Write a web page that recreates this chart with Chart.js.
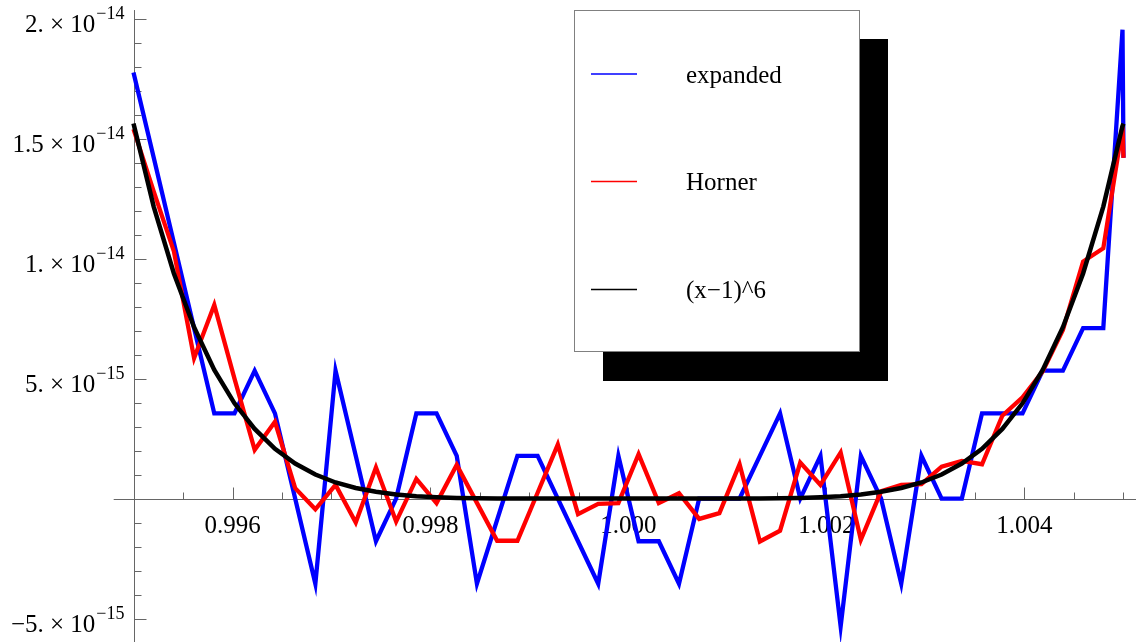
<!DOCTYPE html>
<html><head><meta charset="utf-8">
<script src="https://cdn.jsdelivr.net/npm/chart.js@4.4.1/dist/chart.umd.min.js"></script>
<style>html,body{margin:0;padding:0;background:#fff}#wrap{width:1136px;height:642px;position:relative}</style>
</head><body><div id="wrap"><canvas id="c" width="1136" height="642"></canvas></div>
<script>
// ---- data ----
const xSamples = [0.995000,0.995204,0.995408,0.995612,0.995816,0.996020,0.996224,0.996429,0.996633,0.996837,
  0.997041,0.997245,0.997449,0.997653,0.997857,0.998061,0.998265,0.998469,0.998673,0.998878,
  0.999082,0.999286,0.999490,0.999694,0.999898,1.000102,1.000306,1.000510,1.000714,1.000918,
  1.001122,1.001327,1.001531,1.001735,1.001939,1.002143,1.002347,1.002551,1.002755,1.002959,
  1.003163,1.003367,1.003571,1.003776,1.003980,1.004184,1.004388,1.004592,1.004796,1.004990,1.005000];
const expandedValues = [17.76e-15,14.21e-15,10.66e-15,7.10e-15,3.55e-15,3.55e-15,5.33e-15,3.55e-15,0,-3.55e-15,
  5.33e-15,1.78e-15,-1.78e-15,0,3.55e-15,3.55e-15,1.78e-15,-3.55e-15,-0.89e-15,1.78e-15,
  1.78e-15,0,-1.78e-15,-3.55e-15,1.78e-15,-1.78e-15,-1.78e-15,-3.55e-15,0,0,
  0,1.78e-15,3.55e-15,0,1.78e-15,-5.33e-15,1.78e-15,0,-3.55e-15,1.78e-15,
  0,0,3.55e-15,3.55e-15,3.55e-15,5.33e-15,5.33e-15,7.10e-15,7.10e-15,19.54e-15,14.2e-15];
const hornerValues = [15.4e-15,12.8e-15,10.3e-15,5.85e-15,8.07e-15,5.0e-15,2.03e-15,3.2e-15,0.43e-15,-0.45e-15,
  0.57e-15,-1.0e-15,1.3e-15,-0.96e-15,0.82e-15,-0.19e-15,1.4e-15,-0.18e-15,-1.76e-15,-1.76e-15,
  0.24e-15,2.25e-15,-0.65e-15,-0.22e-15,-0.19e-15,1.85e-15,-0.19e-15,0.22e-15,-0.85e-15,-0.61e-15,
  1.43e-15,-1.79e-15,-1.34e-15,1.5e-15,0.57e-15,1.92e-15,-1.72e-15,0.3e-15,0.57e-15,0.6e-15,
  1.33e-15,1.57e-15,1.43e-15,3.45e-15,4.22e-15,5.3e-15,7.03e-15,9.88e-15,10.43e-15,15.5e-15,14.2e-15];
const exactValues = [15.63e-15,12.17e-15,9.38e-15,7.14e-15,5.36e-15,3.97e-15,2.90e-15,2.07e-15,1.46e-15,1.00e-15,
  0.67e-15,0.44e-15,0.28e-15,0.17e-15,0.097e-15,0.053e-15,0.027e-15,0.013e-15,0.0055e-15,0.002e-15,
  0.0006e-15,0.0001e-15,0,0,0,0,0,0,0.0001e-15,0.0006e-15,
  0.002e-15,0.0055e-15,0.013e-15,0.027e-15,0.053e-15,0.097e-15,0.17e-15,0.28e-15,0.44e-15,0.67e-15,
  1.00e-15,1.46e-15,2.07e-15,2.90e-15,3.97e-15,5.36e-15,7.14e-15,9.38e-15,12.17e-15,15.53e-15,15.63e-15];
const seriesLabels = ["expanded", "Horner", "(x\u22121)^6"];
const seriesColors = ["#0000ff", "#ff0000", "#000000"];

const xMajorTicks = [0.996, 0.998, 1.000, 1.002, 1.004];
const xTickLabels = ["0.996", "0.998", "1.000", "1.002", "1.004"];
const xMinorTicks = [0.9955,0.9965,0.997,0.9975,0.9985,0.999,0.9995,1.0005,1.001,1.0015,1.0025,1.003,1.0035,1.0045,1.005];
const yMajorTicks = [-5e-15, 0, 5e-15, 1e-14, 1.5e-14, 2e-14];
const yTickMantissas = ["\u22125.", "", "5.", "1.", "1.5", "2."];
const yTickExponents = ["\u221215", "", "\u221215", "\u221214", "\u221214", "\u221214"];
const yMinorTicks = [-4e-15,-3e-15,-2e-15,-1e-15,1e-15,2e-15,3e-15,4e-15,6e-15,7e-15,8e-15,9e-15,
  11e-15,12e-15,13e-15,14e-15,16e-15,17e-15,18e-15,19e-15];

// ---- view ----
const X_MIN = 0.9936515, X_MAX = 1.0051263;
const Y_MIN = -5.979e-15, Y_MAX = 20.779e-15;
const Y_AXIS_AT = 0.995, X_AXIS_LEFT = 0.9948, Y_AXIS_TOP = 2.036e-14;
const FONT = "'Liberation Serif','Times New Roman',serif";
const AXIS_COLOR = "#666666";

const pts = ys => ys.map((y, i) => ({x: xSamples[i], y}));

const axesPlugin = {
  id: 'mmaAxes',
  beforeDatasetsDraw(chart) {
    const ctx = chart.ctx, sx = chart.scales.x, sy = chart.scales.y;
    const ox = Math.round(sx.getPixelForValue(Y_AXIS_AT)) + 0.5;
    const oy = Math.round(sy.getPixelForValue(0)) + 0.5;
    ctx.save();
    ctx.strokeStyle = AXIS_COLOR; ctx.lineWidth = 1;
    ctx.beginPath();
    ctx.moveTo(sx.getPixelForValue(X_AXIS_LEFT), oy); ctx.lineTo(chart.width, oy);
    ctx.moveTo(ox, sy.getPixelForValue(Y_AXIS_TOP)); ctx.lineTo(ox, chart.height);
    xMajorTicks.forEach(v => { const p = Math.round(sx.getPixelForValue(v)) + 0.5; ctx.moveTo(p, oy); ctx.lineTo(p, oy - 12); });
    xMinorTicks.forEach(v => { const p = Math.round(sx.getPixelForValue(v)) + 0.5; ctx.moveTo(p, oy); ctx.lineTo(p, oy - 7); });
    yMajorTicks.forEach(v => { const p = Math.round(sy.getPixelForValue(v)) + 0.5; ctx.moveTo(ox, p); ctx.lineTo(ox + 12, p); });
    yMinorTicks.forEach(v => { const p = Math.round(sy.getPixelForValue(v)) + 0.5; ctx.moveTo(ox, p); ctx.lineTo(ox + 7, p); });
    ctx.stroke();
    // x labels
    ctx.fillStyle = "#000";
    ctx.font = "25px " + FONT;
    ctx.textAlign = "center"; ctx.textBaseline = "alphabetic";
    xMajorTicks.forEach((v, i) => ctx.fillText(xTickLabels[i], sx.getPixelForValue(v), oy + 33));
    // y labels  m × 10^e
    yMajorTicks.forEach((v, i) => {
      if (!yTickMantissas[i]) return;
      const p = sy.getPixelForValue(v);
      ctx.font = "18px " + FONT;
      ctx.textAlign = "right";
      const supRight = ox - 10;
      ctx.fillText(yTickExponents[i], supRight, p + 0.5);
      const sw = ctx.measureText(yTickExponents[i]).width;
      ctx.font = "25px " + FONT;
      ctx.fillText(yTickMantissas[i] + " \u00d7 10", supRight - sw - 1, p + 13.5);
    });
    ctx.restore();
  }
};

const legendPlugin = {
  id: 'mmaLegend',
  afterDraw(chart) {
    const ctx = chart.ctx;
    ctx.save();
    ctx.fillStyle = "#000";
    ctx.fillRect(603, 39, 285, 342);
    ctx.fillStyle = "#fff";
    ctx.fillRect(574.5, 10.5, 285, 341);
    ctx.strokeStyle = "#808080"; ctx.lineWidth = 1;
    ctx.strokeRect(574.5, 10.5, 285, 341);
    const rowsY = [74, 181.5, 289.5];
    chart.data.datasets.forEach((ds, i) => {
      const y = rowsY[i];
      ctx.strokeStyle = ds.borderColor; ctx.lineWidth = 1.3;
      ctx.beginPath(); ctx.moveTo(591, y); ctx.lineTo(637, y); ctx.stroke();
      ctx.fillStyle = "#000";
      ctx.font = "25px " + FONT;
      ctx.textAlign = "left"; ctx.textBaseline = "alphabetic";
      ctx.fillText(ds.label, 686, y + 8.5);
    });
    ctx.restore();
  }
};

new Chart(document.getElementById('c').getContext('2d'), {
  type: 'line',
  data: {
    datasets: [
      {label: seriesLabels[0], data: pts(expandedValues), borderColor: seriesColors[0], borderWidth: 4.3, order: 3},
      {label: seriesLabels[1], data: pts(hornerValues), borderColor: seriesColors[1], borderWidth: 4.3, order: 2},
      {label: seriesLabels[2], data: pts(exactValues), borderColor: seriesColors[2], borderWidth: 4.5, order: 1}
    ]
  },
  options: {
    responsive: false, animation: false, devicePixelRatio: 1,
    layout: {padding: 0},
    elements: {point: {radius: 0, hoverRadius: 0}, line: {tension: 0, fill: false, borderJoinStyle: 'miter', borderCapStyle: 'butt'}},
    plugins: {legend: {display: false}, tooltip: {enabled: false}},
    scales: {
      x: {type: 'linear', display: false, min: X_MIN, max: X_MAX},
      y: {type: 'linear', display: false, min: Y_MIN, max: Y_MAX}
    }
  },
  plugins: [axesPlugin, legendPlugin]
});
</script></body></html>
